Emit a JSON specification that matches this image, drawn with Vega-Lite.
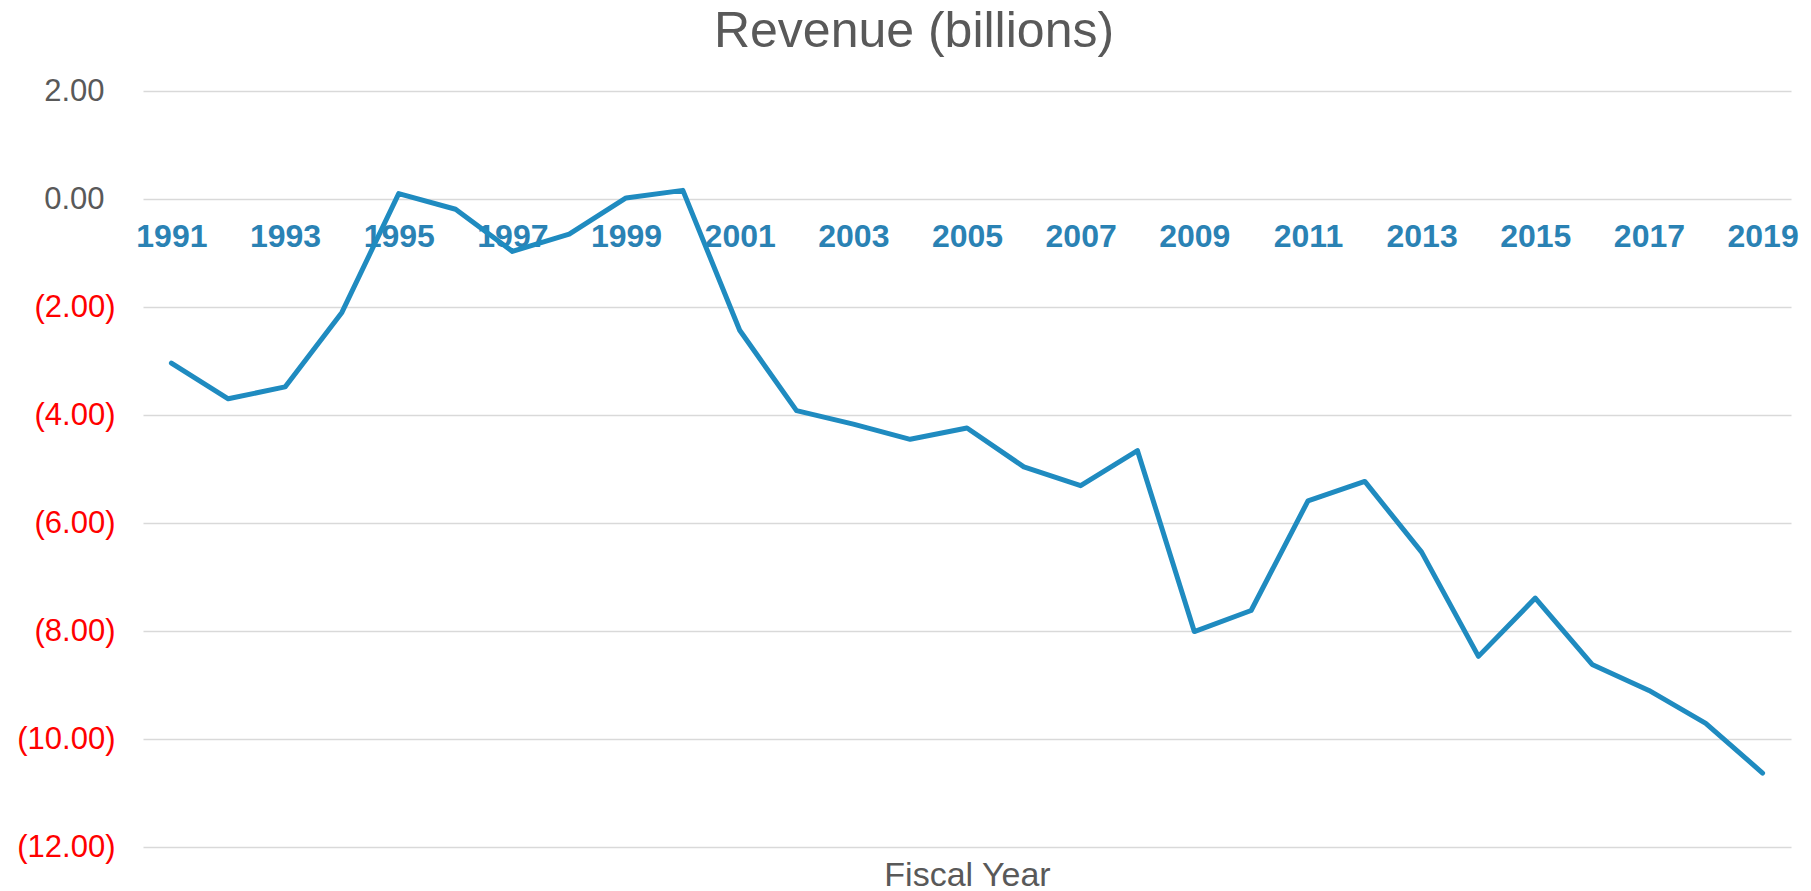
{
  "$schema": "https://vega.github.io/schema/vega-lite/v6.json",
  "autosize": {"type": "none"},
  "padding": {"left": 143, "top": 91, "right": 20, "bottom": 44},
  "width": 1648,
  "height": 756,
  "background": "white",
  "title": {
    "text": "Revenue (billions)",
    "font": "Liberation Sans",
    "fontSize": 50,
    "fontWeight": "normal",
    "color": "#595959",
    "anchor": "middle",
    "baseline": "alphabetic",
    "offset": 30,
    "dy": 52,
    "dx": -53
  },
  "config": {
    "view": {"stroke": null},
    "font": "Liberation Sans"
  },
  "data": {
    "values": [
      {"year": 1991, "revenue": -3.04},
      {"year": 1992, "revenue": -3.70},
      {"year": 1993, "revenue": -3.48},
      {"year": 1994, "revenue": -2.10},
      {"year": 1995, "revenue": 0.10},
      {"year": 1996, "revenue": -0.19},
      {"year": 1997, "revenue": -0.97},
      {"year": 1998, "revenue": -0.65},
      {"year": 1999, "revenue": 0.02},
      {"year": 2000, "revenue": 0.16},
      {"year": 2001, "revenue": -2.43},
      {"year": 2002, "revenue": -3.92},
      {"year": 2003, "revenue": -4.17},
      {"year": 2004, "revenue": -4.45},
      {"year": 2005, "revenue": -4.24},
      {"year": 2006, "revenue": -4.96},
      {"year": 2007, "revenue": -5.31},
      {"year": 2008, "revenue": -4.66},
      {"year": 2009, "revenue": -8.01},
      {"year": 2010, "revenue": -7.62},
      {"year": 2011, "revenue": -5.59},
      {"year": 2012, "revenue": -5.23},
      {"year": 2013, "revenue": -6.54},
      {"year": 2014, "revenue": -8.47},
      {"year": 2015, "revenue": -7.39},
      {"year": 2016, "revenue": -8.62},
      {"year": 2017, "revenue": -9.10},
      {"year": 2018, "revenue": -9.71},
      {"year": 2019, "revenue": -10.63}
    ]
  },
  "mark": {
    "type": "line",
    "color": "#1f8bc0",
    "strokeWidth": 5,
    "strokeJoin": "round",
    "strokeCap": "round"
  },
  "encoding": {
    "x": {
      "field": "year",
      "type": "ordinal",
      "scale": {"type": "point", "padding": 0.5},
      "axis": {
        "values": [1991, 1993, 1995, 1997, 1999, 2001, 2003, 2005, 2007, 2009, 2011, 2013, 2015, 2017, 2019],
        "labelAngle": 0,
        "offset": -648,
        "domain": false,
        "ticks": false,
        "tickSize": 0,
        "grid": false,
        "labelPadding": 22,
        "labelFont": "Liberation Sans",
        "labelFontSize": 32,
        "labelFontWeight": "bold",
        "labelColor": "#2a82b4",
        "title": "Fiscal Year",
        "titleFont": "Liberation Sans",
        "titleFontSize": 34,
        "titleFontWeight": "normal",
        "titleColor": "#595959",
        "titleBaseline": "alphabetic",
        "titleY": 686,
        "titleX": 824,
        "titleAlign": "center"
      }
    },
    "y": {
      "field": "revenue",
      "type": "quantitative",
      "scale": {"domain": [-12, 2], "nice": false, "zero": false},
      "axis": {
        "values": [-12, -10, -8, -6, -4, -2, 0, 2],
        "labelExpr": "datum.value < 0 ? '(' + format(-datum.value, '.2f') + ')' : format(datum.value, '.2f')",
        "labelColor": {"condition": {"test": "datum.value < 0", "value": "#ff0000"}, "value": "#595959"},
        "labelFont": "Liberation Sans",
        "labelFontSize": 31,
        "labelPadding": {"condition": {"test": "datum.value >= 0", "value": 39}, "value": 28},
        "domain": false,
        "ticks": false,
        "tickSize": 0,
        "grid": true,
        "gridColor": "#d9d9d9",
        "gridWidth": 1.6,
        "title": null
      }
    }
  }
}
